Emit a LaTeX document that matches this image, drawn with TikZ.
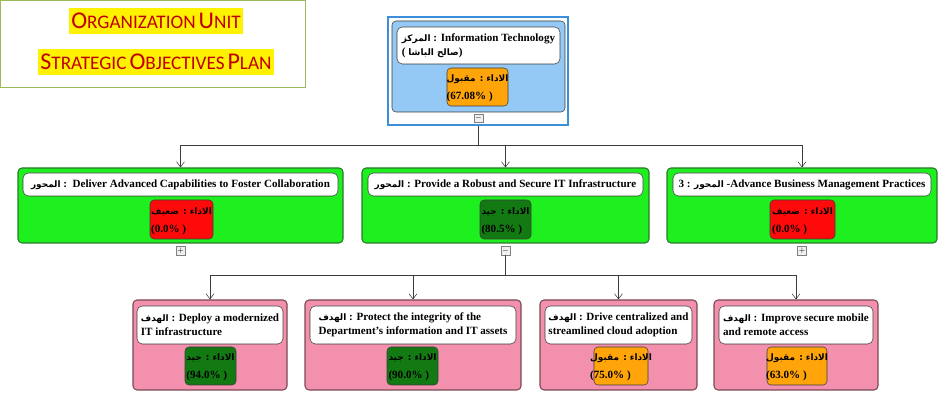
\documentclass[tikz,border=0pt]{standalone}
\usepackage{fontspec}
\setmainfont{Liberation Serif}
\newfontfamily\titlefont{Carlito}
\newfontfamily\arabicfont[Script=Arabic]{DejaVu Sans}
\TeXXeTstate=1
\usetikzlibrary{arrows.meta, positioning, fit}
\definecolor{rootfill}{HTML}{94C9F5}
\definecolor{selblue}{HTML}{3D8FD9}
\definecolor{axisfill}{HTML}{1EEF1E}
\definecolor{axisline}{HTML}{2A7A2A}
\definecolor{goalfill}{HTML}{F290AE}
\definecolor{goalline}{HTML}{7A4A55}
\definecolor{perfgood}{HTML}{137A13}
\definecolor{perfweak}{HTML}{FF0A0A}
\definecolor{perfok}{HTML}{FFA50A}
\definecolor{edge}{HTML}{3C3C3C}
\definecolor{frameline}{HTML}{9BBB59}
\definecolor{titlered}{HTML}{C00000}
\newcommand{\artxt}[1]{{\arabicfont\fontsize{6.7}{8}\selectfont\beginR #1\endR}}
\newcommand{\perftext}[2]{{\renewcommand{\arraystretch}{1.3}\begin{tabular}{@{}l@{}}\hfill\artxt{#1}\\#2\end{tabular}}}
\newcommand{\bigc}[1]{{\fontsize{18}{19}\selectfont #1}}
\newcommand{\smc}[1]{{\fontsize{14.4}{16}\selectfont #1}}
\tikzset{
    headbox/.style={draw=frameline, fill=white, inner sep=0pt},
    headline/.style={fill=yellow, text=titlered, font=\titlefont, inner sep=2pt, minimum height=20pt},
    selframe/.style={draw=selblue, line width=1.5pt, fill=white, inner sep=0pt},
    rootbox/.style={draw=edge, fill=rootfill, rounded corners=3pt, inner sep=0pt},
    axisbox/.style={draw=axisline, fill=axisfill, rounded corners=3pt, inner sep=0pt, thick},
    goalbox/.style={draw=goalline, fill=goalfill, rounded corners=3pt, inner sep=0pt, thick},
    labelbox/.style={draw=edge, fill=white, rounded corners=4pt, inner sep=0pt},
    perfbox/.style={draw=edge, rounded corners=3pt, inner sep=0pt},
    goodbox/.style={perfbox, fill=perfgood},
    weakbox/.style={perfbox, fill=perfweak},
    okbox/.style={perfbox, fill=perfok},
    boxtext/.style={inner sep=0pt, font=\bfseries\fontsize{8.3}{10.5}\selectfont, align=left},
    togglebox/.style={draw=gray, fill=gray!12, minimum size=6.5pt, inner sep=0pt, font=\tiny},
    conn/.style={draw=edge, -{Straight Barb[length=4pt,width=6pt]}}
}
\begin{document}
\begin{tikzpicture}[x=0.75pt, y=-0.75pt]
    \useasboundingbox (0,0) rectangle (951,406);

    % title block
    \node[headbox, fit={(0.7,0.7) (305,87)}] (head) {};
    \node[headline] (hl1) at (156,21) {\bigc{O}\smc{RGANIZATION} \bigc{U}\smc{NIT}};
    \node[headline] (hl2) at (156,62) {\bigc{S}\smc{TRATEGIC} \bigc{O}\smc{BJECTIVES} \bigc{P}\smc{LAN}};

    % root
    \node[selframe, fit={(388,17) (568,125)}] (rsel) {};
    \node[rootbox, fit={(392,21) (565,112)}] (rootb) {};
    \node[labelbox, fit={(397,27) (560,64)}] (rlab) {};
    \node[boxtext] (rlabt) at (rlab) {\artxt{المركز} : Information Technology\\( \artxt{صالح الباشا})};
    \node[okbox, fit={(447,68) (508,106)}] (rperf) {};
    \node[boxtext] (rperft) at (rperf) {\perftext{الاداء : مقبول}{(67.08\% )}};
    \node[togglebox, below=1pt of rootb] (rtog) {$-$};

    % axes
    \node[axisbox, fit={(18,168) (343,243)}] (ax1) {};
    \node[labelbox, fit={(23,173) (338,196)}] (ax1lab) {};
    \node[boxtext] (ax1labt) at (ax1lab) {\artxt{المحور} :\ \ Deliver Advanced Capabilities to Foster Collaboration};
    \node[weakbox, fit={(150,200) (213,239)}] (ax1perf) {};
    \node[boxtext] (ax1perft) at (ax1perf) {\perftext{الاداء : ضعيف}{(0.0\% )}};
    \node[togglebox, below=2pt of ax1] (tog1) {$+$};

    \node[axisbox, fit={(362,168) (649,243)}] (ax2) {};
    \node[labelbox, fit={(368,173) (643,196)}] (ax2lab) {};
    \node[boxtext] (ax2labt) at (ax2lab) {\artxt{المحور} : Provide a Robust and Secure IT Infrastructure};
    \node[goodbox, fit={(480,200) (531,239)}] (ax2perf) {};
    \node[boxtext] (ax2perft) at (ax2perf) {\perftext{الاداء : جيد}{(80.5\% )}};
    \node[togglebox, below=2pt of ax2] (tog2) {$-$};

    \node[axisbox, fit={(667,168) (937,243)}] (ax3) {};
    \node[labelbox, fit={(673,173) (931,196)}] (ax3lab) {};
    \node[boxtext] (ax3labt) at (ax3lab) {3 : \artxt{المحور} -Advance Business Management Practices};
    \node[weakbox, fit={(770,200) (835,239)}] (ax3perf) {};
    \node[boxtext] (ax3perft) at (ax3perf) {\perftext{الاداء : ضعيف}{(0.0\% )}};
    \node[togglebox, below=2pt of ax3] (tog3) {$+$};

    % goals
    \node[goalbox, fit={(133,300) (287,390)}] (g1) {};
    \node[labelbox, fit={(137,306) (283,344)}] (g1lab) {};
    \node[boxtext] (g1labt) at (g1lab) {\artxt{الهدف} : Deploy a modernized\\IT infrastructure};
    \node[goodbox, fit={(185,347) (236,385)}] (g1perf) {};
    \node[boxtext] (g1perft) at (g1perf) {\perftext{الاداء : جيد}{(94.0\% )}};

    \node[goalbox, fit={(305,300) (521,390)}] (g2) {};
    \node[labelbox, fit={(310,306) (516,344)}] (g2lab) {};
    \node[boxtext] (g2labt) at (g2lab) {\artxt{الهدف} : Protect the integrity of the\\Department's information and IT assets};
    \node[goodbox, fit={(387,347) (438,385)}] (g2perf) {};
    \node[boxtext] (g2perft) at (g2perf) {\perftext{الاداء : جيد}{(90.0\% )}};

    \node[goalbox, fit={(540,300) (697,390)}] (g3) {};
    \node[labelbox, fit={(545,306) (692,344)}] (g3lab) {};
    \node[boxtext] (g3labt) at (g3lab) {\artxt{الهدف} : Drive centralized and\\streamlined cloud adoption};
    \node[okbox, fit={(594,347) (648,385)}] (g3perf) {};
    \node[boxtext] (g3perft) at (g3perf) {\perftext{الاداء : مقبول}{(75.0\% )}};

    \node[goalbox, fit={(714,300) (878,390)}] (g4) {};
    \node[labelbox, fit={(719,306) (873,344)}] (g4lab) {};
    \node[boxtext] (g4labt) at (g4lab) {\artxt{الهدف} : Improve secure mobile\\and remote access};
    \node[okbox, fit={(767,347) (827,385)}] (g4perf) {};
    \node[boxtext] (g4perft) at (g4perf) {\perftext{الاداء : مقبول}{(63.0\% )}};

    % connectors
    \coordinate (bus1) at (0,145);
    \draw[conn] (rsel.south) -- (rsel.south |- bus1) -| (ax1.north);
    \draw[conn] (rsel.south) -- (rsel.south |- bus1) -| (ax2.north);
    \draw[conn] (rsel.south) -- (rsel.south |- bus1) -| (ax3.north);

    \coordinate (bus2) at (0,275);
    \draw[conn] (tog2.south) -- (tog2.south |- bus2) -| (g1.north);
    \draw[conn] (tog2.south) -- (tog2.south |- bus2) -| (g2.north);
    \draw[conn] (tog2.south) -- (tog2.south |- bus2) -| (g3.north);
    \draw[conn] (tog2.south) -- (tog2.south |- bus2) -| (g4.north);
\end{tikzpicture}
\end{document}
